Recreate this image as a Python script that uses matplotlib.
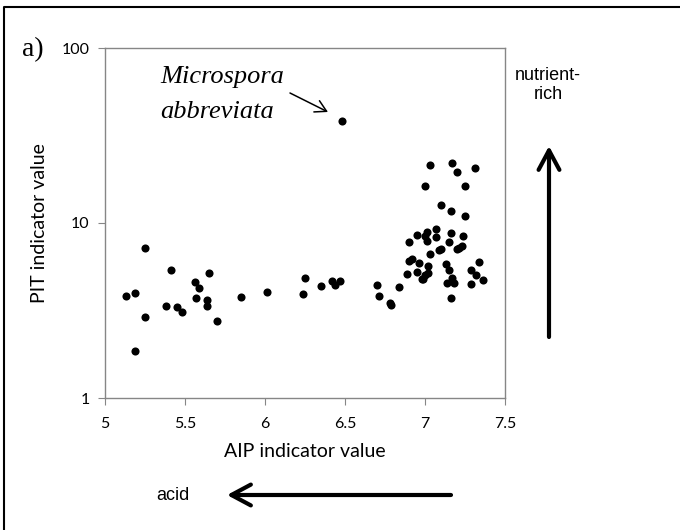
import matplotlib
matplotlib.use("Agg")
import matplotlib.pyplot as plt
from matplotlib.patches import FancyArrowPatch
from matplotlib.lines import Line2D

# AIP (x) and PIT (y) indicator values
aip = [5.13, 5.19, 5.19, 5.25, 5.25, 5.38, 5.41, 5.45, 5.48, 5.56,
       5.57, 5.59, 5.64, 5.64, 5.65, 5.70, 5.85, 6.01, 6.24, 6.25,
       6.35, 6.42, 6.44, 6.47, 6.48, 6.70, 6.71, 6.78, 6.79, 6.84,
       6.89, 6.90, 6.90, 6.92, 6.95, 6.95, 6.96, 6.98, 6.99, 7.00,
       7.00, 7.00, 7.01, 7.01, 7.02, 7.02, 7.03, 7.03, 7.07, 7.07,
       7.09, 7.10, 7.10, 7.13, 7.14, 7.15, 7.15, 7.16, 7.16, 7.16,
       7.17, 7.17, 7.18, 7.20, 7.20, 7.21, 7.23, 7.24, 7.25, 7.25,
       7.29, 7.29, 7.31, 7.32, 7.34, 7.36]
pit = [3.81, 4.00, 1.86, 7.20, 2.90, 3.35, 5.37, 3.32, 3.09, 4.58,
       3.73, 4.27, 3.63, 3.37, 5.18, 2.74, 3.79, 4.02, 3.91, 4.85,
       4.38, 4.68, 4.40, 4.64, 38.4, 4.42, 3.83, 3.47, 3.40, 4.33,
       5.11, 7.82, 6.07, 6.25, 8.58, 5.23, 5.93, 4.80, 4.80, 8.40,
       5.05, 16.3, 8.90, 7.86, 5.68, 5.18, 21.5, 6.65, 9.20, 8.28,
       6.97, 7.10, 12.7, 5.83, 4.54, 7.79, 5.39, 11.7, 8.73, 3.73,
       21.9, 4.87, 4.56, 19.5, 7.10, 7.20, 7.42, 8.40, 16.3, 11.0,
       5.37, 4.46, 20.6, 5.03, 5.96, 4.70]

x_ticks = [5, 5.5, 6, 6.5, 7, 7.5]
x_tick_labels = ['5', '5.5', '6', '6.5', '7', '7.5']
y_ticks = [1, 10, 100]
y_tick_labels = ['1', '10', '100']

W, H = 680, 530
fig = plt.figure(figsize=(6.8, 5.3), dpi=100)
ax = fig.add_axes([105 / W, 1 - 398 / H, 400 / W, 350 / H])

ax.scatter(aip, pit, s=34, color='black', zorder=3, linewidths=0)
ax.set_yscale('log')
ax.set_xlim(5, 7.5)
ax.set_ylim(1, 100)
ax.set_xticks(x_ticks)
ax.set_xticklabels(x_tick_labels)
ax.set_yticks(y_ticks)
ax.set_yticklabels(y_tick_labels)
ax.minorticks_off()

gray = '#868686'
for s in ax.spines.values():
    s.set_color(gray)
    s.set_linewidth(1.0)
ax.tick_params(direction='out', length=5, color=gray, labelsize=11.5,
               pad=6)
ax.tick_params(axis='x', pad=9)
for lab in ax.get_xticklabels() + ax.get_yticklabels():
    lab.set_family('Lato')

ax.set_xlabel('AIP indicator value', family='Lato', fontsize=14, labelpad=8)
ax.set_ylabel('PIT indicator value', family='Lato', fontsize=14, labelpad=10)


def fx(px):
    return px / W


def fy(py):
    return 1 - py / H


# outer frame (only top and left edges show in the crop)
fig.lines.append(Line2D([fx(4), fx(4), fx(680)], [fy(530), fy(7), fy(7)],
                        transform=fig.transFigure, color='black', lw=1.5))

fig.text(fx(33), fy(50), 'a)', family='Liberation Serif', fontsize=20,
         ha='center', va='center')
fig.text(fx(160), fy(83), 'Microspora', family='Liberation Serif',
         style='italic', fontsize=19, ha='left', va='baseline')
fig.text(fx(160), fy(118), 'abbreviata', family='Liberation Serif',
         style='italic', fontsize=19, ha='left', va='baseline')
fig.patches.append(FancyArrowPatch(
    (fx(290), fy(93)), (fx(328), fy(112)), transform=fig.transFigure,
    arrowstyle='->,head_length=0.8,head_width=0.45', mutation_scale=10,
    lw=1.1, color='black', shrinkA=0, shrinkB=0))

fig.text(fx(548), fy(80), 'nutrient-', family='Liberation Sans',
         fontsize=13, ha='center', va='baseline')
fig.text(fx(548), fy(99), 'rich', family='Liberation Sans',
         fontsize=13, ha='center', va='baseline')
fig.patches.append(FancyArrowPatch(
    (fx(549), fy(337)), (fx(549), fy(146)), transform=fig.transFigure,
    arrowstyle='->,head_length=1.4,head_width=0.75', mutation_scale=10,
    lw=3, color='black', shrinkA=0, shrinkB=0))

fig.text(fx(173), fy(496), 'acid', family='Liberation Sans',
         fontsize=13, ha='center', va='center')
fig.patches.append(FancyArrowPatch(
    (fx(451), fy(495)), (fx(227), fy(495)), transform=fig.transFigure,
    arrowstyle='->,head_length=1.4,head_width=0.75', mutation_scale=10,
    lw=3, color='black', shrinkA=0, shrinkB=0))

fig.savefig('out.png', dpi=100)
